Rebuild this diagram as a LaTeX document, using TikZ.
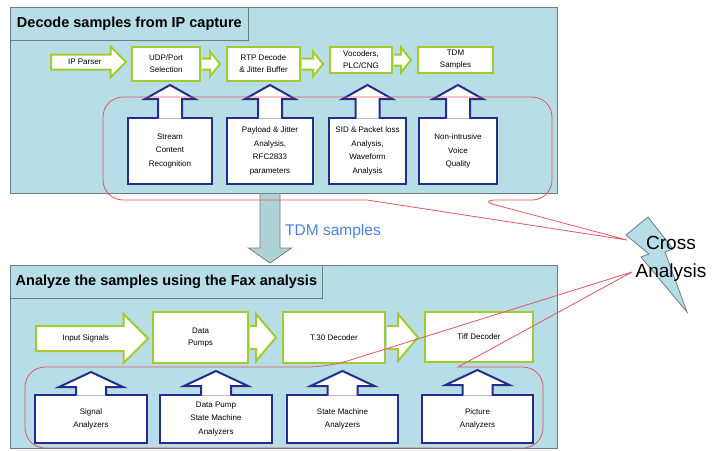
\documentclass[tikz,border=0pt]{standalone}
\usepackage{fontspec}
\setmainfont{Liberation Sans}
\usetikzlibrary{calc,shapes.arrows}
\definecolor{fax@panel}{RGB}{183,222,230}
\definecolor{fax@frame}{RGB}{110,125,130}
\definecolor{fax@green}{RGB}{160,205,45}
\definecolor{fax@blue}{RGB}{35,45,140}
\definecolor{fax@red}{RGB}{225,85,100}
\definecolor{fax@label}{RGB}{75,130,225}
\definecolor{fax@pipe}{RGB}{175,210,215}

\tikzset{
  panel/.style={draw=fax@frame, fill=fax@panel, line width=0.8pt, inner sep=0pt, anchor=north west},
  paneltitle/.style={panel, font=\bfseries\fontsize{14.5}{16}\selectfont},
  stage/.style={draw=fax@green, fill=white, line width=2pt, inner sep=0pt, align=center, font=\fontsize{8}{12}\selectfont},
  stagearrow/.style={stage, single arrow, single arrow head extend=#1, anchor=tail,
    text height=5.5pt, text depth=1.5pt},
  analyzer/.style={draw=fax@blue, fill=white, line width=2pt, inner sep=0pt, align=center, font=\fontsize{8}{13.5}\selectfont},
  flow/.style={draw=fax@green, fill=white, line width=2pt},
  probe/.style={draw=fax@blue, fill=white, line width=2pt},
  pipe/.style={draw=fax@frame, fill=fax@pipe, line width=0.8pt},
  callout/.style={draw=fax@red, line width=0.8pt},
  bolt/.style={draw=fax@frame, fill=fax@panel, line width=0.8pt},
}

% hollow block arrow: from, to, shaft half, head half, head length
\newcommand{\flowarrow}[5]{%
  \filldraw[flow] ($(#1.east)+(1,-#3)$) -- ($(#2.west |- #1.east)+(-6-#5,-#3)$)
    -- ($(#2.west |- #1.east)+(-6-#5,-#4)$) -- ($(#2.west |- #1.east)+(-6,0)$)
    -- ($(#2.west |- #1.east)+(-6-#5,#4)$) -- ($(#2.west |- #1.east)+(-6-#5,#3)$)
    -- ($(#1.east)+(1,#3)$);}

% up arrow on an analyzer box: [gap] box, target
\newcommand{\probe}[3][7]{%
  \filldraw[probe] ($(#2.north)+(-\probeshaft,1.5)$)
    -- ($(#2.north |- #3.south)+(-\probeshaft,#1+\probelen)$)
    -- ($(#2.north |- #3.south)+(-\probehead,#1+\probelen)$)
    -- ($(#2.north |- #3.south)+(0,#1)$)
    -- ($(#2.north |- #3.south)+(\probehead,#1+\probelen)$)
    -- ($(#2.north |- #3.south)+(\probeshaft,#1+\probelen)$)
    -- ($(#2.north)+(\probeshaft,1.5)$);}

\begin{document}
\begin{tikzpicture}[x=1pt,y=-1pt]
\useasboundingbox (0,0) rectangle (712,450);

\coordinate (toptail) at (627,240);
\coordinate (bottail) at (632,272);
\coordinate (tdmx) at (270,0);

% Decode samples from IP capture
\begin{scope}
  \node[panel, minimum width=547pt, minimum height=186pt] (decode) at (10,7) {};
  \node[paneltitle, minimum width=238pt, minimum height=33pt] (decodetitle) at (10,7)
    {Decode samples from IP capture};

  \node[stagearrow=8pt, minimum height=75pt, inner ysep=3pt, inner xsep=2pt] (ipparser) at (50,62) {IP Parser};
  \node[stage, minimum width=68pt, minimum height=34pt] (udp) at (166,64) {UDP/Port\\Selection};
  \node[stage, minimum width=73pt, minimum height=34pt] (rtp) at (263.5,64) {RTP Decode\\\& Jitter Buffer};
  \node[stage, minimum width=62pt, minimum height=26pt] (voc) at (361,60) {Vocoders,\\PLC/CNG};
  \node[stage, minimum width=75pt, minimum height=26pt] (tdm) at (455.5,60) {TDM\\Samples};

  \flowarrow{udp}{rtp}{5.5}{12.5}{10}
  \flowarrow{rtp}{voc}{5.5}{12.5}{10}
  \flowarrow{voc}{tdm}{5.5}{12.5}{10}

  \node[analyzer, minimum width=84pt, minimum height=66pt] (scr) at (170,151)
    {Stream\\Content\\Recognition};
  \node[analyzer, minimum width=86pt, minimum height=66pt] (pja) at (270,151)
    {Payload \& Jitter\\Analysis,\\RFC2833\\parameters};
  \node[analyzer, minimum width=77pt, minimum height=66pt] (sid) at (367.5,151)
    {SID \& Packet loss\\Analysis,\\Waveform\\Analysis};
  \node[analyzer, minimum width=78pt, minimum height=66pt] (nivq) at (458,151)
    {Non-intrusive\\Voice\\Quality};

  \def\probeshaft{12}\def\probehead{25}\def\probelen{14}
  \probe[3]{scr}{udp}
  \probe[3]{pja}{rtp}
  \probe[11]{sid}{voc}
  \probe[11]{nivq}{tdm}
\end{scope}

% Analyze the samples using the Fax analysis
\begin{scope}[shift={(0,258)}]
  \node[panel, minimum width=547pt, minimum height=183pt] (analyze) at (10,7) {};
  \node[paneltitle, minimum width=312pt, minimum height=33pt] (analyzetitle) at (10,7)
    {Analyze the samples using the Fax analysis};

  \node[stagearrow=12pt, minimum height=112pt, inner ysep=8pt, inner xsep=2pt] (input) at (35,80.5) {Input Signals};
  \node[stage, minimum width=95pt, minimum height=51pt] (pumps) at (200.5,79.5) {Data\\Pumps};
  \node[stage, minimum width=102pt, minimum height=51pt] (t30) at (334,79.5) {T.30 Decoder};
  \node[stage, minimum width=108pt, minimum height=50pt] (tiff) at (479,79) {Tiff Decoder};

  \flowarrow{pumps}{t30}{11.5}{23.5}{20}
  \flowarrow{t30}{tiff}{11.5}{23.5}{20}

  \node[analyzer, minimum width=112pt, minimum height=48pt] (siga) at (91,161)
    {Signal\\Analyzers};
  \node[analyzer, minimum width=112pt, minimum height=48pt] (dpsm) at (216,161)
    {Data Pump\\State Machine\\Analyzers};
  \node[analyzer, minimum width=111pt, minimum height=48pt] (sma) at (342.5,161)
    {State Machine\\Analyzers};
  \node[analyzer, minimum width=111pt, minimum height=48pt] (pica) at (477.5,161)
    {Picture\\Analyzers};

  \def\probeshaft{15}\def\probehead{32}\def\probelen{15}
  \probe[20]{siga}{input}
  \probe{dpsm}{pumps}
  \probe{sma}{t30}
  \probe{pica}{tiff}
\end{scope}

% TDM samples
\filldraw[pipe] ($(decode.south -| tdmx)+(-10,0)$) -- ($(analyze.north -| tdmx)+(-10,-17)$)
  -- ($(analyze.north -| tdmx)+(-21.5,-17)$) -- ($(analyze.north -| tdmx)+(0,-2)$)
  -- ($(analyze.north -| tdmx)+(21.5,-17)$) -- ($(analyze.north -| tdmx)+(10,-17)$)
  -- ($(decode.south -| tdmx)+(10,0)$);
\node[anchor=west, inner sep=0pt, text=fax@label, font=\fontsize{15.5}{18}\selectfont] (tdmlabel)
  at (285,231) {TDM samples};

% callouts
\draw[callout] (367,200) [rounded corners=20pt] -- (103,200) -- (103,97) -- (552,97)
  -- (552,200) -- (477,200) [sharp corners] -- (toptail) -- cycle;
\draw[callout] (458,367) [rounded corners=20pt] -- (543,367) -- (543,448) -- (25,448)
  -- (25,367) -- (328,367) [sharp corners] -- (bottail) -- cycle;

% Cross Analysis
\draw[bolt] (626,235) -- (648,217) -- (673,249) -- (665,252) -- (687,312) -- (641,257) -- (649,254) -- cycle;
\node[align=center, font=\fontsize{19}{28}\selectfont] (cross) at (671,259) {Cross\\Analysis};

\end{tikzpicture}
\end{document}
